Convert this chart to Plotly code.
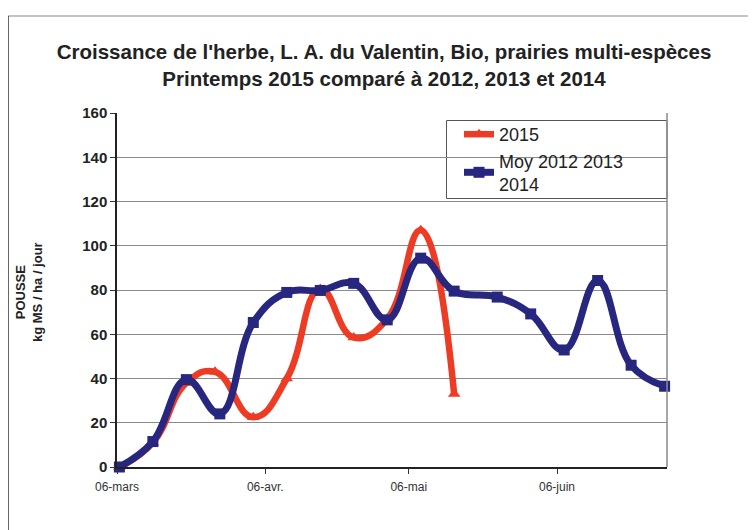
import plotly.graph_objects as go
import pandas as pd

# ---- data ----
dates_2015 = ["2015-03-06", "2015-03-13", "2015-03-20", "2015-03-26", "2015-04-03",
              "2015-04-10", "2015-04-17", "2015-04-24", "2015-05-01", "2015-05-08",
              "2015-05-15"]
values_2015 = [0, 11, 38, 43, 22.5, 40, 80.5, 58.5, 67, 107, 33]

dates_moy = ["2015-03-06", "2015-03-13", "2015-03-20", "2015-03-27", "2015-04-03",
             "2015-04-10", "2015-04-17", "2015-04-24", "2015-05-01", "2015-05-08",
             "2015-05-15", "2015-05-24", "2015-05-31", "2015-06-07", "2015-06-14",
             "2015-06-21", "2015-06-28"]
values_moy = [0, 11.5, 39.5, 24, 65.3, 78.9, 79.8, 83, 66.5, 94.4,
              79.5, 76.8, 69.2, 52.9, 84.3, 46, 36.5]

tick_dates = ["2015-03-06", "2015-04-06", "2015-05-06", "2015-06-06"]
tick_labels = ["06-mars", "06-avr.", "06-mai", "06-juin"]

name_2015 = "2015"
name_moy = "Moy 2012 2013<br>2014"

# points sit in the middle of their day slot (Excel date axis)
x2015 = pd.to_datetime(dates_2015) + pd.Timedelta(hours=12)
xmoy = pd.to_datetime(dates_moy) + pd.Timedelta(hours=12)

RED = "#EE3B24"
BLUE = "#27277F"

fig = go.Figure()
fig.add_trace(go.Scatter(
    x=x2015, y=values_2015, name=name_2015, mode="lines+markers",
    line=dict(color=RED, width=6.5, shape="spline", smoothing=1.3),
    marker=dict(symbol="triangle-up", size=11, color=RED),
    cliponaxis=False,
))
fig.add_trace(go.Scatter(
    x=xmoy, y=values_moy, name=name_moy, mode="lines+markers",
    line=dict(color=BLUE, width=7, shape="spline", smoothing=1.2),
    marker=dict(symbol="square", size=11, color=BLUE),
    cliponaxis=False,
))

# page has an 8px body margin: page coords = figure coords + 8
OFF = 8
L, T = 117 - OFF, 113 - OFF
PW, PH = 550, 354
R = 756 - L - PW
B = 530 - T - PH

def px(xp):  # page x -> paper
    return (xp - 117) / PW

def py(yp):  # page y -> paper
    return (467 - yp) / PH

fig.update_layout(
    width=756, height=530,
    margin=dict(l=L, r=R, t=T, b=B),
    paper_bgcolor="white", plot_bgcolor="white",
    font=dict(family="Liberation Sans, Arial, sans-serif", color="#222"),
    title=dict(
        text="Croissance de l'herbe, L. A. du Valentin, Bio, prairies multi-espèces<br>"
             "Printemps 2015 comparé à 2012, 2013 et 2014",
        x=(384 - OFF) / 756, xanchor="center",
        y=1 - (59 - OFF) / 530, yanchor="middle",
        font=dict(size=20.5, color="#222", family="Liberation Sans, Arial, sans-serif",
                  weight="bold"),
    ),
    xaxis=dict(
        type="date",
        range=["2015-03-06", "2015-06-29"],
        tickvals=tick_dates, ticktext=tick_labels,
        ticks="outside", ticklen=5, tickcolor="#333",
        ticklabelstandoff=3,
        showgrid=False, zeroline=False,
        showline=True, linecolor="#222", linewidth=1.5,
        tickfont=dict(size=12, color="#333"),
    ),
    yaxis=dict(
        range=[0, 160], dtick=20,
        ticks="outside", ticklen=5, tickcolor="#333",
        showgrid=True, gridcolor="#8a8a8a", gridwidth=1,
        zeroline=False,
        showline=True, linecolor="#222", linewidth=1.5,
        tickfont=dict(size=15, color="#222", weight="bold"),
    ),
    legend=dict(
        x=px(459), y=py(116), xanchor="left", yanchor="top",
        bgcolor="rgba(0,0,0,0)", borderwidth=0,
        font=dict(size=18, color="#222"),
        itemwidth=30, tracegroupgap=0,
    ),
    showlegend=True,
)

# legend box
fig.add_shape(type="rect", xref="paper", yref="paper",
              x0=px(446.5), x1=px(667), y0=py(198.5), y1=py(120.5),
              line=dict(color="#555", width=1), fillcolor="white", layer="below")
# right border of plot area
fig.add_shape(type="line", xref="paper", yref="paper", x0=1, x1=1, y0=0, y1=1,
              line=dict(color="#8a8a8a", width=1.5))
# outer chart frame (top and left)
fig.add_shape(type="line", xref="paper", yref="paper",
              x0=px(8), x1=px(770), y0=py(16), y1=py(16),
              line=dict(color="#b0b0b0", width=1.5))
fig.add_shape(type="line", xref="paper", yref="paper",
              x0=px(8), x1=px(8), y0=py(16), y1=py(545),
              line=dict(color="#333", width=1.5))

# y-axis title
fig.add_annotation(
    text="<b>POUSSE</b><br><b>kg MS / ha / jour</b>",
    xref="paper", yref="paper", x=px(29), y=py(292),
    xanchor="center", yanchor="middle", textangle=-90, showarrow=False,
    font=dict(size=13, color="#222"),
)

fig.write_html("out.html")
